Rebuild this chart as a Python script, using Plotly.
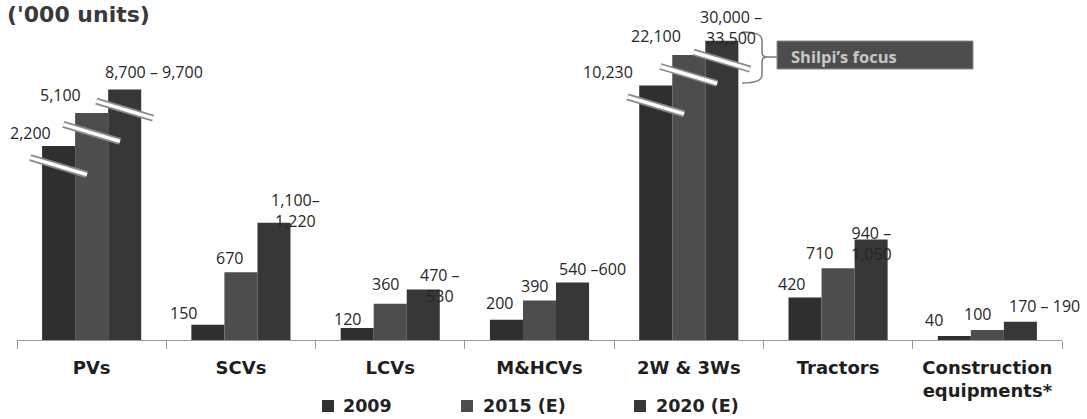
import math
import plotly.graph_objects as go

# Domestic vehicle volumes ('000 units)
categories = ["PVs", "SCVs", "LCVs", "M&HCVs", "2W & 3Ws", "Tractors",
              "Construction<br>equipments*"]
series_names = ["2009", "2015 (E)", "2020 (E)"]

units_2009 = [2200, 150, 120, 200, 10230, 420, 40]
units_2015 = [5100, 670, 360, 390, 22100, 710, 100]
units_2020_low = [8700, 1100, 470, 540, 30000, 940, 170]
units_2020_high = [9700, 1220, 530, 600, 33500, 1050, 190]

labels_2009 = ["2,200", "150", "120", "200", "10,230", "420", "40"]
labels_2015 = ["5,100", "670", "360", "390", "22,100", "710", "100"]
labels_2020 = ["8,700 – 9,700", "1,100–<br>1,220", "470 –<br>530", "540 –600",
               "30,000 –<br>33,500", "940 –<br>1,050", "170 – 190"]

# 2020 is a forecast range: the bar stands at the middle of the range
units_2020 = [(lo + hi) / 2 for lo, hi in zip(units_2020_low, units_2020_high)]

series_values = [units_2009, units_2015, units_2020]
series_labels = [labels_2009, labels_2015, labels_2020]
series_colors = ["#2f2f2f", "#4d4d4d", "#373737"]

# Label placement relative to each bar top (pixels): horizontal shift, height above top
label_dx = [
    [-28, -24, -10, -7, -48, -14, -20],
    [-31, -11, -5, -5, -33, -19, -10],
    [29, 22, 17, 20, 9, 0, 24],
]
label_dy = [
    [13, 12, 9, 17, 13, 14, 16],
    [18, 14, 20, 15, 19, 15, 16],
    [18, 12, 4, 13, 13, -4, 16],
]

# Broken value axis: anything above BREAK_AT is drawn on a compressed log segment
BREAK_AT = 2000


def axis_height(v):
    if v <= BREAK_AT:
        return v
    return 1770 + 900 * math.log10(v / 1500)


W, H = 1087, 419
M_L, M_R, M_T, M_B = 17, 25, 20, 79
PLOT_W = W - M_L - M_R
PLOT_H = H - M_T - M_B
Y_MAX = 3168
BARGAP = 0.336
BAR_W = (1 - BARGAP) / 3
UNITS_PER_PX = Y_MAX / PLOT_H

TEXT_FONT = "Open Sans"
BOLD_FONT = "DejaVu Sans"


def px_to_paper(px, py):
    return (px - M_L) / PLOT_W, (H - M_B - py) / PLOT_H


fig = go.Figure()

for name, vals, color in zip(series_names, series_values, series_colors):
    fig.add_trace(go.Bar(
        name=name,
        x=list(range(len(categories))),
        y=[axis_height(v) for v in vals],
        customdata=vals,
        hovertemplate="%{customdata:,}<extra>" + name + "</extra>",
        marker=dict(color=color, line=dict(width=0)),
        showlegend=False,
    ))

shapes = []
annotations = []

for j, (vals, texts) in enumerate(zip(series_values, series_labels)):
    offset = (j - 1) * BAR_W
    for i, (v, t) in enumerate(zip(vals, texts)):
        top = axis_height(v)
        cx = i + offset
        annotations.append(dict(
            x=cx, y=top, xref="x", yref="y", text=t, showarrow=False,
            xanchor="center", yanchor="middle",
            xshift=label_dx[j][i], yshift=label_dy[j][i],
            font=dict(family=TEXT_FONT, size=16, color="#262626"),
        ))
        if v > BREAK_AT:
            # break marker: slanted white band edged in grey across the bar
            cy = top - 20 * UNITS_PER_PX
            half_rise = 8.5 * UNITS_PER_PX
            x0, x1 = cx - 0.19, cx + 0.19
            for lw, lc in ((7, "#8a8a8a"), (3.5, "#ffffff")):
                shapes.append(dict(
                    type="line", xref="x", yref="y",
                    x0=x0, y0=cy + half_rise, x1=x1, y1=cy - half_rise,
                    line=dict(color=lc, width=lw),
                ))

# "Shilpi's focus" call-out bracketing the two-wheeler bars
pts = {
    "a": px_to_paper(742, 32), "b": px_to_paper(762, 32), "c": px_to_paper(762, 40),
    "d": px_to_paper(762, 52), "e": px_to_paper(762, 57), "f": px_to_paper(767, 57),
    "g": px_to_paper(762, 62), "h": px_to_paper(762, 75), "i": px_to_paper(762, 83),
    "k": px_to_paper(742, 83),
}


def P(k):
    return f"{pts[k][0]:.5f},{pts[k][1]:.5f}"


bracket_path = (f"M {P('a')} Q {P('b')} {P('c')} L {P('d')} Q {P('e')} {P('f')} "
                f"Q {P('e')} {P('g')} L {P('h')} Q {P('i')} {P('k')}")
shapes.append(dict(type="path", xref="paper", yref="paper", path=bracket_path,
                   line=dict(color="#7a7a7a", width=1.5)))
fx, fy = px_to_paper(767, 57)
gx, _ = px_to_paper(777, 57)
shapes.append(dict(type="line", xref="paper", yref="paper", x0=fx, y0=fy, x1=gx, y1=fy,
                   line=dict(color="#7a7a7a", width=1.5)))
bx0, by0 = px_to_paper(777, 69)
bx1, by1 = px_to_paper(973, 41)
shapes.append(dict(type="rect", xref="paper", yref="paper", x0=bx0, y0=by0, x1=bx1, y1=by1,
                   fillcolor="#4d4d4d", line=dict(color="#8c8c8c", width=1)))
tx, ty = px_to_paper(789, 56)
annotations.append(dict(
    x=tx, y=ty, xref="paper", yref="paper", text="Shilpi’s focus", showarrow=False,
    xanchor="left", yanchor="middle",
    font=dict(family=TEXT_FONT, size=16.5, color="#c8c8c8", weight="bold"),
))

# unit caption at the top-left corner
ux, uy = px_to_paper(5, 29)
annotations.append(dict(
    x=ux, y=uy, xref="paper", yref="paper", text="('000 units)", showarrow=False,
    xanchor="left", yanchor="bottom",
    font=dict(family=BOLD_FONT, size=22, color="#3a3a3a", weight="bold"),
))

# legend row under the axis: colour swatch followed by the series name
legend_swatch_px = [322, 461, 634]
legend_text_px = [341, 481, 654]
LEGEND_Y = 406
for name, color, sx, tx_px in zip(series_names, series_colors, legend_swatch_px, legend_text_px):
    sx0, sy0 = px_to_paper(sx, LEGEND_Y + 6)
    sx1, sy1 = px_to_paper(sx + 12, LEGEND_Y - 6)
    shapes.append(dict(type="rect", xref="paper", yref="paper",
                       x0=sx0, y0=sy0, x1=sx1, y1=sy1,
                       fillcolor=color, line=dict(width=0)))
    lx, ly = px_to_paper(tx_px, LEGEND_Y)
    annotations.append(dict(
        x=lx, y=ly, xref="paper", yref="paper", text=name, showarrow=False,
        xanchor="left", yanchor="middle",
        font=dict(family=BOLD_FONT, size=17.5, color="#222222", weight="bold"),
    ))

fig.update_layout(
    width=W, height=H,
    margin=dict(l=M_L, r=M_R, t=M_T, b=M_B, autoexpand=False),
    paper_bgcolor="white", plot_bgcolor="white",
    barmode="group", bargap=BARGAP, bargroupgap=0,
    shapes=shapes, annotations=annotations,
    showlegend=False,
    xaxis=dict(
        type="category",
        tickmode="array", tickvals=list(range(len(categories))), ticktext=categories,
        range=[-0.5, len(categories) - 0.5],
        tickson="boundaries", ticks="outside", ticklen=8, tickcolor="#999999",
        ticklabelstandoff=11,
        showline=True, linecolor="#999999", linewidth=1,
        showgrid=False, zeroline=False,
        tickfont=dict(family=BOLD_FONT, size=18, color="#1e1e1e", weight="bold"),
    ),
    yaxis=dict(range=[0, Y_MAX], visible=False, showgrid=False, zeroline=False),
)

fig.write_html("out.html")
